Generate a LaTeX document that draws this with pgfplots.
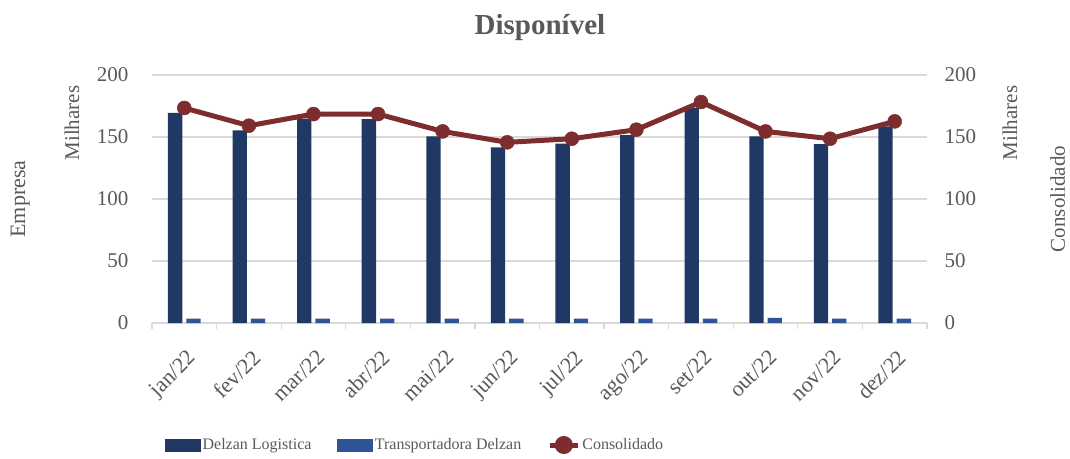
\documentclass[border=0pt]{standalone}
\usepackage{fontspec}
\setmainfont{Liberation Serif}
\usepackage{pgfplots}
\usepackage{pgfplotstable}
\pgfplotsset{compat=1.18}
\definecolor{navy}{RGB}{31,56,100}
\definecolor{lblue}{RGB}{47,85,151}
\definecolor{cons}{RGB}{125,45,45}
\definecolor{txt}{RGB}{89,89,89}
\definecolor{gridc}{RGB}{217,217,217}

\pgfplotstableread{
x log trans cons
0 169.4 3.6 173.4
1 155.3 3.6 159.1
2 164.8 3.6 168.5
3 164.5 3.6 168.5
4 150.5 3.6 154.5
5 141.6 3.6 145.7
6 144.6 3.6 148.6
7 151.6 3.6 155.9
8 173.4 3.6 178.2
9 150.5 4.2 154.5
10 144.3 3.6 148.6
11 158.6 3.6 162.6
}\data

\newcommand{\fs}[1]{\fontsize{#1}{#1}\selectfont}

\begin{document}
\begin{tikzpicture}
\path[use as bounding box] (0pt,0pt) rectangle (1070pt,458pt);
\begin{axis}[
  at={(152pt,135pt)}, anchor=south west,
  scale only axis, width=775pt, height=248pt,
  xmin=-0.5, xmax=11.5, ymin=0, ymax=200,
  clip=false,
  axis line style={draw=none},
  ybar=4pt, bar width=14.3pt,
  xtick={0,...,11},
  xticklabels={jan/22,fev/22,mar/22,abr/22,mai/22,jun/22,jul/22,ago/22,set/22,out/22,nov/22,dez/22},
  xtick pos=left, ytick pos=left,
  major tick length=0pt,
  xticklabel style={rotate=45, anchor=north east, text=txt, font=\fs{22}, yshift=-16pt, xshift=-13pt},
  ytick={0,50,...,200},
  yticklabel style={text=txt, font=\fs{21}, xshift=-20pt},
  ymajorgrids, grid style={gridc, line width=1.2pt},
  extra x ticks={-0.5,0.5,...,11.5},
  extra x tick labels={},
  extra x tick style={major tick length=6pt, tick align=outside, xmajorgrids=false,
     tick style={gridc, line width=1.2pt}},
  /pgf/number format/assume math mode=true,
]
\addplot[fill=navy, draw=none] table[x=x,y=log]{\data};
\addplot[fill=lblue, draw=none] table[x=x,y=trans]{\data};
\node[rotate=90, text=txt, font=\fs{22}] at (rel axis cs:-0.170,0.5) {Empresa};
\node[rotate=90, text=txt, font=\fs{21}] at (rel axis cs:-0.1032,0.806) {Milhares};
\node[rotate=90, text=txt, font=\fs{21}] at (rel axis cs:1.107,0.806) {Milhares};
\node[rotate=90, text=txt, font=\fs{21}] at (rel axis cs:1.1685,0.5) {Consolidado};
\node[text=txt, font=\bfseries\fs{29}] at (rel axis cs:0.5006,1.19) {Disponível};
\end{axis}
\begin{axis}[
  at={(152pt,135pt)}, anchor=south west,
  scale only axis, width=775pt, height=248pt,
  xmin=-0.5, xmax=11.5, ymin=0, ymax=200,
  clip=false,
  axis x line=none,
  axis y line*=right,
  y axis line style={draw=none},
  ytick={0,50,...,200},
  major tick length=0pt,
  yticklabel style={text=txt, font=\fs{21}, xshift=14pt},
  /pgf/number format/assume math mode=true,
  legend style={at={(rel axis cs:0.0168,-0.492)}, anchor=west, draw=none, fill=none,
    legend columns=3, font=\fs{16}, text=txt, inner xsep=0pt,
    nodes={inner xsep=2pt},
    /tikz/every even column/.append style={column sep=24pt}},
]
\addlegendimage{legend image code/.code={\fill[navy] (0pt,-6pt) rectangle (35pt,6pt);}}
\addlegendentry{Delzan Logistica}
\addlegendimage{legend image code/.code={\fill[lblue] (0pt,-6pt) rectangle (35pt,6pt);}}
\addlegendentry{Transportadora Delzan}
\addplot[cons, line width=5pt, mark=*, mark size=7pt,
  mark options={fill=cons, draw=cons, line width=0.5pt},
  legend image code/.code={\draw[cons, line width=5pt] (0pt,0pt) -- (28pt,0pt);
    \fill[cons] (14pt,0pt) circle (6.5pt);}]
  table[x=x,y=cons]{\data};
\addlegendentry{Consolidado}
\end{axis}
\end{tikzpicture}
\end{document}
